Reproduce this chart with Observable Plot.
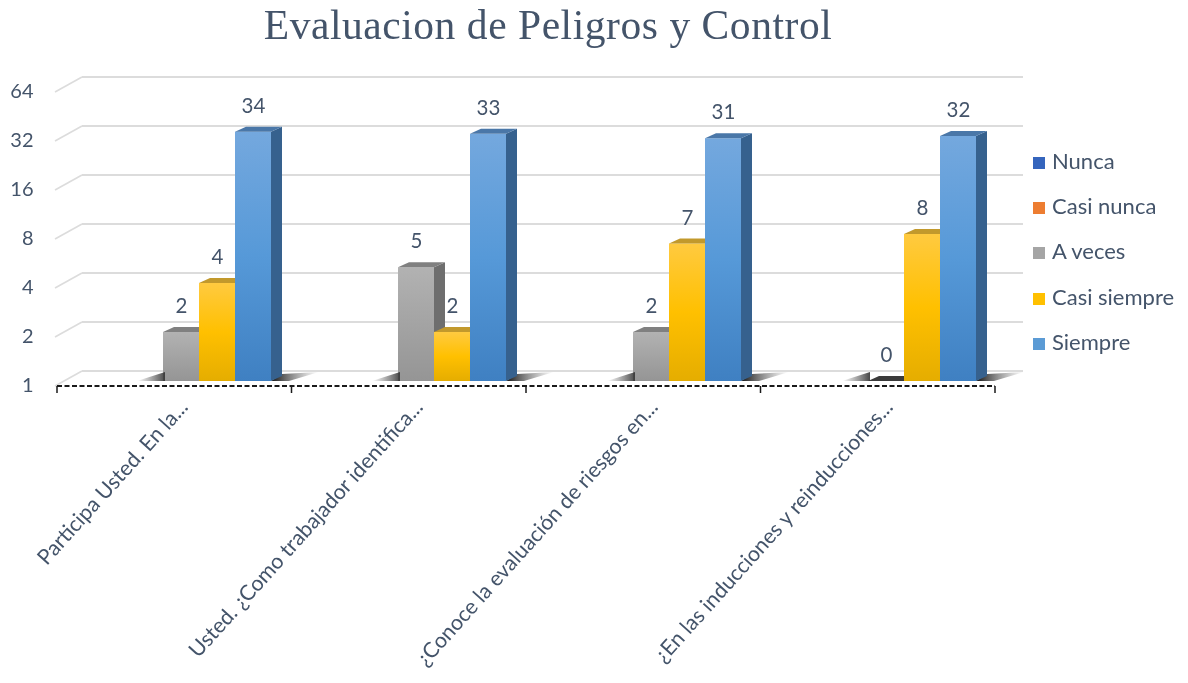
<!DOCTYPE html>
<html><head><meta charset="utf-8">
<script src="https://cdn.jsdelivr.net/npm/d3@7"></script>
<script src="https://cdn.jsdelivr.net/npm/@observablehq/plot@0.6"></script>
<style>
html,body{margin:0;padding:0;background:#fff;overflow:hidden;width:1188px;height:683px}
#page{position:relative;width:1188px;height:683px;filter:blur(0.45px)}
#title{height:50px;margin:0;text-align:center;font:400 41.5px/50px "Liberation Serif",serif;color:#44546a;letter-spacing:.55px;position:relative;top:0;left:-46px}
#legend{position:absolute;left:1033px;top:138px;font:22px/45.2px Lato,sans-serif;color:#44546a}
#legend div{height:45.2px;white-space:nowrap}
#legend i{display:inline-block;width:12px;height:12px;margin-right:7px;vertical-align:0}
svg text{font-family:Lato,sans-serif}
</style></head><body>
<div id="page">
<h1 id="title">Evaluacion de Peligros y Control</h1>
<div id="chart"></div>
<div id="legend"></div>
</div>
<script>
const title = "Evaluacion de Peligros y Control";
const categories = ["Participa Usted. En la...","Usted. ¿Como trabajador identifica...","¿Conoce la evaluación de riesgos en...","¿En las inducciones y reinducciones..."];
const seriesNames = ["Nunca","Casi nunca","A veces","Casi siempre","Siempre"];
const nunca = [null,null,null,null];
const casiNunca = [null,null,null,null];
const aVeces = [2,5,2,0];
const casiSiempre = [4,2,7,8];
const siempre = [34,33,31,32];
const yTicks = [1,2,4,8,16,32,64];
const seriesValues = [nunca,casiNunca,aVeces,casiSiempre,siempre];
const legendColors = ["#3565bd","#ed7d31","#a5a5a5","#ffc000","#5b9bd5"];
const gradients = {
  "A veces":[["0%","#b2b2b2"],["100%","#959595"]],
  "Casi siempre":[["0%","#ffca40"],["50%","#ffc000"],["100%","#e5ad00"]],
  "Siempre":[["0%","#74a8de"],["50%","#5699d8"],["100%","#3f80c2"]]
};
const faces = {
  "A veces":{side:"#6e6e6e",top:"#808080"},
  "Casi siempre":{side:"#a98000",top:"#c2992c"},
  "Siempre":{side:"#36618e",top:"#4a77a8"}
};
const rows = [];
seriesNames.forEach((s,j)=>categories.forEach((c,i)=>{
  const v = seriesValues[j][i];
  if (v !== null) rows.push({category:c,series:s,value:v});
}));
const slug = s => "g-"+s.replace(/\s/g,"");
const NS = "http://www.w3.org/2000/svg";
const W = 1188, H = 633, mL = 57, mR = 191, mT = 37, mB = 302;
function poly(g,pts,fill){
  const p = document.createElementNS(NS,"polygon");
  p.setAttribute("points",pts.map(q=>q.join(",")).join(" "));
  p.setAttribute("fill",fill);
  g.appendChild(p);
}
function seg(g,x1,y1,x2,y2,stroke,w){
  const l=document.createElementNS(NS,"line");
  l.setAttribute("x1",x1);l.setAttribute("y1",y1);
  l.setAttribute("x2",x2);l.setAttribute("y2",y2);
  l.setAttribute("stroke",stroke);l.setAttribute("stroke-width",w);
  g.appendChild(l);
}
const depthX = 11, depthY = 5;
const bar3d = s => Plot.barY(rows.filter(d=>d.series===s),{
  fx:"category", x:"series", y1:()=>1, y2:d=>Math.max(d.value,1),
  fill:`url(#${slug(s)})`,
  render(index,scales,values,dims,ctx,next){
    const g = next(index,scales,values,dims,ctx);
    g.querySelectorAll("rect").forEach(r=>{
      const x=+r.getAttribute("x"), y=+r.getAttribute("y"), w=+r.getAttribute("width"), h=+r.getAttribute("height");
      const b=y+h, f=faces[s];
      if (s==="A veces") poly(g,[[x-26,b],[x+2,b-9],[x+2,b]],"url(#shadowL)");
      if (s==="Siempre") poly(g,[[x+w,b],[x+w+depthX,b-7],[x+w+48,b-9],[x+w+18,b]],"url(#shadowR)");
      poly(g,[[x+w,y],[x+w+depthX,y-depthY],[x+w+depthX,b-depthY],[x+w,b]],f.side);
      poly(g,[[x,y],[x+depthX,y-depthY],[x+w+depthX,y-depthY],[x+w,y]],h<1?"#3a3a3a":f.top);
    });
    return g;
  }
});
// drawn once, in the first panel, whose frame coincides with the whole plot
const overlay = draw => Plot.ruleY([1],{fx:()=>categories[0],y:d=>d,
  render(index,scales){
    const g = document.createElementNS(NS,"g");
    draw(g,scales);
    return g;
  }});
const plot = Plot.plot({
  width:W, height:H,
  marginLeft:mL, marginRight:mR, marginTop:mT, marginBottom:mB,
  fx:{domain:categories,padding:0,axis:null},
  x:{domain:seriesNames,range:[mL+34,mL+214],padding:0,axis:null},
  y:{type:"log",base:2,domain:[1,64],axis:null},
  style:{background:"transparent",overflow:"hidden"},
  marks:[
    overlay((g,s)=>{
      yTicks.forEach(v=>{
        const y=s.y(v);
        seg(g,mL-2,y+5,mL+25,y-10,"#dcdcdc",1.6);
        seg(g,mL+25,y-10,1023,y-10,"#dcdcdc",2);
      });
    }),
    Plot.axisY({ticks:yTicks,tickFormat:d=>String(d),tickSize:0,tickPadding:24,dy:4,fontSize:20,color:"#44546a",label:null}),
    Plot.axisFx({domain:categories,anchor:"bottom",label:null,tickSize:0,tickRotate:-48,fontSize:21.3,color:"#44546a",tickPadding:22,dx:9,lineWidth:Infinity,tickFormat:d=>d,textOverflow:null}),
    bar3d("A veces"),
    bar3d("Casi siempre"),
    bar3d("Siempre"),
    Plot.text(rows,{fx:"category",x:"series",y:d=>Math.max(d.value,1),text:d=>String(d.value),dy:-26,fontSize:20.5,fill:"#44546a",lineAnchor:"middle"}),
    overlay((g,s)=>{
      const y0 = s.y(1)+5, x1 = 995;
      seg(g,mL,y0,x1,y0,"#1a1a1a",2);
      g.lastChild.setAttribute("stroke-dasharray","5,2.5");
      const step = (x1-mL)/categories.length;
      d3.range(categories.length+1).forEach(k=>{
        const x = mL+k*step;
        seg(g,x,y0,x,y0+7,"#1a1a1a",1.5);
      });
    })
  ]
});
// gradients used by the bar faces
const defs = d3.select(plot).insert("svg:defs",":first-child");
Object.entries(gradients).forEach(([s,stops])=>{
  const lg = defs.append("linearGradient").attr("id",slug(s)).attr("x1",0).attr("y1",0).attr("x2",0).attr("y2",1);
  stops.forEach(([o,c])=>lg.append("stop").attr("offset",o).attr("stop-color",c));
});
const sl = defs.append("linearGradient").attr("id","shadowL");
sl.append("stop").attr("offset","0%").attr("stop-color","#555").attr("stop-opacity",0);
sl.append("stop").attr("offset","100%").attr("stop-color","#333").attr("stop-opacity",.9);
const sr = defs.append("linearGradient").attr("id","shadowR");
sr.append("stop").attr("offset","0%").attr("stop-color","#111").attr("stop-opacity",1);
sr.append("stop").attr("offset","100%").attr("stop-color","#666").attr("stop-opacity",0);
document.getElementById("chart").appendChild(plot);
document.getElementById("title").textContent = title;
const legend = d3.select("#legend");
seriesNames.forEach((s,i)=>{
  const d = legend.append("div");
  d.append("i").style("background",legendColors[i]);
  d.append("span").text(s);
});
</script>
</body></html>
